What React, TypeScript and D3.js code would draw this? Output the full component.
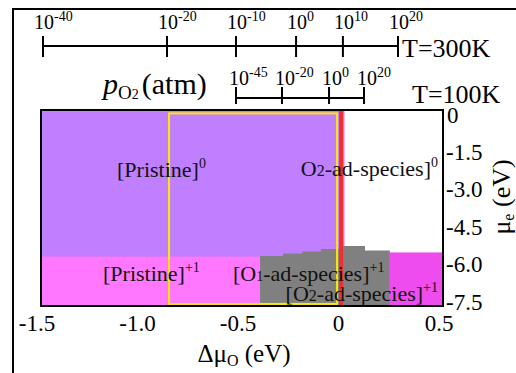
import * as d3 from "d3";

const W = 516;
const H = 373;

// axes
const muODomain = [-1.5, 0.5];
const muEDomain = [0, -7.5];
const xTicks = [-1.5, -1.0, -0.5, 0, 0.5];
const xTickLabels = ["-1.5", "-1.0", "-0.5", "0", "0.5"];
const yTicks = [0, -1.5, -3.0, -4.5, -6.0, -7.5];
const yTickLabels = ["0", "-1.5", "-3.0", "-4.5", "-6.0", "-7.5"];

// oxygen pressure scales, tick positions given as Δμ_O (eV)
const p300Exps = ["-40", "-20", "-10", "0", "10", "20"];
const p300Pos = [-1.49, -0.873, -0.53, -0.231, 0.002, 0.276];
const p100Exps = ["-45", "-20", "0", "20"];
const p100Pos = [-0.53, -0.301, -0.067, 0.107];

// phase regions (Δμ_O, μe)
const pristine0Edge = 0.01;
const pristine1Top = -5.61;
const o1Edges = [-0.41, -0.296, -0.201, -0.107, -0.007, 0.112, 0.236];
const o1Tops = [-5.59, -5.49, -5.41, -5.32, -5.2, -5.38];
const o2Edges = [0.236, 0.5];
const o2Top = -5.45;

// yellow window and red line
const windowMuO = [-0.863, -0.027];
const windowMuE = [-0.13, -7.42];
const redLineMuO = -0.007;

const FONT = "Liberation Serif, DejaVu Serif, Times New Roman, serif";

export default function App() {
  const left = 41, right = 443, top = 110, bottom = 306;
  const x = d3.scaleLinear().domain(muODomain).range([left, right]);
  const y = d3.scaleLinear().domain(muEDomain).range([top, bottom]);
  const xLab = d3.scaleLinear().domain(muODomain).range([37, 439]);
  const yLab = d3.scaleLinear().domain(muEDomain).range([115, 302]);

  const stepArea = d3
    .area<number>()
    .x((d) => x(o1Edges[d]))
    .y0(bottom)
    .y1((d) => y(o1Tops[Math.min(d, o1Tops.length - 1)]))
    .curve(d3.curveStepAfter);

  const line300 = 46;
  const line100 = 98;

  return (
    <svg
      width={W}
      height={H}
      style={{ position: "absolute", left: 0, top: 0, background: "#fff", fontFamily: FONT }}
    >
      {/* outer frame */}
      <rect x={13} y={9} width={600} height={500} fill="none" stroke="#000" strokeWidth={2} />

      {/* phases */}
      <rect x={x(-1.5)} y={top} width={x(pristine0Edge) - x(-1.5)} height={bottom - top} fill="#bf7fff" />
      <rect x={x(-1.5)} y={y(pristine1Top)} width={x(o1Edges[0]) - x(-1.5)} height={bottom - y(pristine1Top)} fill="#ff77ff" />
      <path d={stepArea(d3.range(o1Edges.length)) ?? ""} fill="#808080" />
      <rect x={x(o2Edges[0])} y={y(o2Top)} width={x(o2Edges[1]) - x(o2Edges[0])} height={bottom - y(o2Top)} fill="#ee4cee" />

      {/* yellow window and red line */}
      <rect
        x={x(windowMuO[0])}
        y={y(windowMuE[0])}
        width={x(windowMuO[1]) - x(windowMuO[0])}
        height={y(windowMuE[1]) - y(windowMuE[0])}
        fill="none"
        stroke="#ffe800"
        strokeWidth={2}
      />
      <line x1={x(redLineMuO)} x2={x(redLineMuO)} y1={top} y2={bottom} stroke="#f03030" strokeWidth={4} />

      {/* region labels */}
      <g fontSize={22} fill="#111">
        <text x={117} y={177}>
          [Pristine]<tspan fontSize={14} dy={-9}>0</tspan>
        </text>
        <text x={438} y={176} textAnchor="end">
          O<tspan fontSize={16}>2</tspan>-ad-species]<tspan fontSize={14} dy={-9}>0</tspan>
        </text>
        <text x={103} y={281}>
          [Pristine]<tspan fontSize={14} dy={-9}>+1</tspan>
        </text>
        <text x={233} y={281}>
          [O<tspan fontSize={14}>1</tspan>-ad-species]<tspan fontSize={14} dy={-9}>+1</tspan>
        </text>
        <text x={438} y={301} textAnchor="end">
          [O<tspan fontSize={16}>2</tspan>-ad-species]<tspan fontSize={14} dy={-9}>+1</tspan>
        </text>
      </g>

      {/* plot border */}
      <rect x={left} y={top} width={right - left} height={bottom - top} fill="none" stroke="#000" strokeWidth={2} />

      {/* x tick labels */}
      <g fontSize={23} textAnchor="middle">
        {xTicks.map((v, i) => (
          <text key={v} x={xLab(v)} y={331}>
            {xTickLabels[i]}
          </text>
        ))}
      </g>
      {/* y tick labels */}
      <g fontSize={23}>
        {yTicks.map((v, i) => (
          <text key={v} x={i === 0 ? 447 : 446} y={yLab(v)} dominantBaseline="central">
            {yTickLabels[i]}
          </text>
        ))}
      </g>

      {/* axis titles */}
      <text x={244} y={362} fontSize={25} textAnchor="middle">
        Δμ<tspan fontSize={16} dy={4}>O</tspan>
        <tspan dy={-4}> (eV)</tspan>
      </text>
      <text transform="translate(510,197) rotate(-90)" fontSize={26} textAnchor="middle">
        μ<tspan fontSize={16} dy={4}>e</tspan>
        <tspan dy={-4}> (eV)</tspan>
      </text>

      {/* T = 300 K pressure axis */}
      <g stroke="#000" strokeWidth={2}>
        <line x1={x(p300Pos[0])} x2={x(p300Pos[p300Pos.length - 1])} y1={line300} y2={line300} />
        {p300Pos.map((p) => (
          <line key={p} x1={x(p)} x2={x(p)} y1={line300 - 10} y2={line300 + 11} />
        ))}
      </g>
      <g fontSize={20}>
        {p300Pos.map((p, i) => (
          <text key={p} x={x(p) - 9} y={29}>
            10<tspan fontSize={14} dy={-8}>{p300Exps[i]}</tspan>
          </text>
        ))}
      </g>
      <text x={402} y={57} fontSize={26}>T=300K</text>

      {/* T = 100 K pressure axis */}
      <g stroke="#000" strokeWidth={2}>
        <line x1={x(p100Pos[0])} x2={x(p100Pos[p100Pos.length - 1])} y1={line100} y2={line100} />
        {p100Pos.map((p) => (
          <line key={p} x1={x(p)} x2={x(p)} y1={line100 - 11} y2={line100 + 6} />
        ))}
      </g>
      <g fontSize={20}>
        {p100Pos.map((p, i) => (
          <text key={p} x={x(p) - 7} y={85}>
            10<tspan fontSize={14} dy={-8}>{p100Exps[i]}</tspan>
          </text>
        ))}
      </g>
      <text x={103} y={94} fontSize={30}>
        <tspan fontStyle="italic">p</tspan>
        <tspan fontSize={19} dy={5}>O</tspan>
        <tspan fontSize={14}>2</tspan>
        <tspan dx={3} dy={-5}>(atm)</tspan>
      </text>
      <text x={412} y={103} fontSize={26}>T=100K</text>
    </svg>
  );
}
